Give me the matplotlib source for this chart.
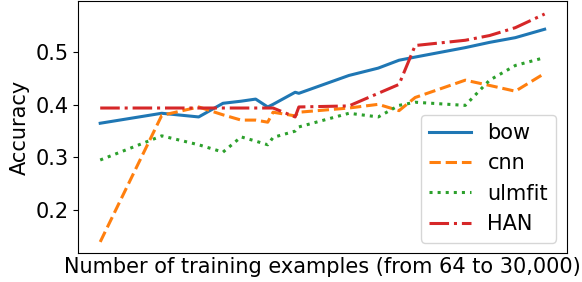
import matplotlib
matplotlib.use('Agg')
import matplotlib.pyplot as plt

# training set sizes (log spaced)
train_sizes = [64, 150, 250, 350, 450, 550, 650, 700, 950, 1000,
               2000, 3000, 4000, 5000, 10000, 14000, 20000, 30000]

bow = [0.365, 0.384, 0.377, 0.403, 0.407, 0.411, 0.396, 0.401, 0.424, 0.422,
       0.456, 0.470, 0.485, 0.491, 0.509, 0.519, 0.528, 0.544]
cnn = [0.139, 0.380, 0.396, 0.381, 0.371, 0.371, 0.367, 0.386, 0.379, 0.386,
       0.394, 0.401, 0.389, 0.414, 0.447, 0.437, 0.426, 0.460]
ulmfit = [0.295, 0.341, 0.324, 0.310, 0.339, 0.331, 0.324, 0.338, 0.350, 0.358,
          0.384, 0.377, 0.399, 0.405, 0.399, 0.447, 0.475, 0.490]
han = [0.394, 0.394, 0.394, 0.394, 0.394, 0.394, 0.394, 0.394, 0.377, 0.396,
       0.398, 0.422, 0.439, 0.513, 0.523, 0.532, 0.547, 0.573]

plt.rcParams['font.size'] = 15

fig, ax = plt.subplots(figsize=(5.82, 2.82), dpi=100)
fig.subplots_adjust(left=0.134, right=0.974, top=0.995, bottom=0.103)

ax.plot(train_sizes, bow, label='bow', color='tab:blue', linestyle='-', lw=2.2)
ax.plot(train_sizes, cnn, label='cnn', color='tab:orange', linestyle='--', lw=2.2)
ax.plot(train_sizes, ulmfit, label='ulmfit', color='tab:green', linestyle=':', lw=2.2)
ax.plot(train_sizes, han, label='HAN', color='tab:red', linestyle='-.', lw=2.2)

ax.set_xscale('log')
ax.tick_params(axis='x', which='both', bottom=False, labelbottom=False)
ax.set_ylim(0.118, 0.597)
ax.set_yticks([0.2, 0.3, 0.4, 0.5])

ax.set_xlabel('Number of training examples (from 64 to 30,000)', labelpad=3)
ax.set_ylabel('Accuracy')
ax.legend(loc='lower right')

fig.savefig('out.png', dpi=100)
